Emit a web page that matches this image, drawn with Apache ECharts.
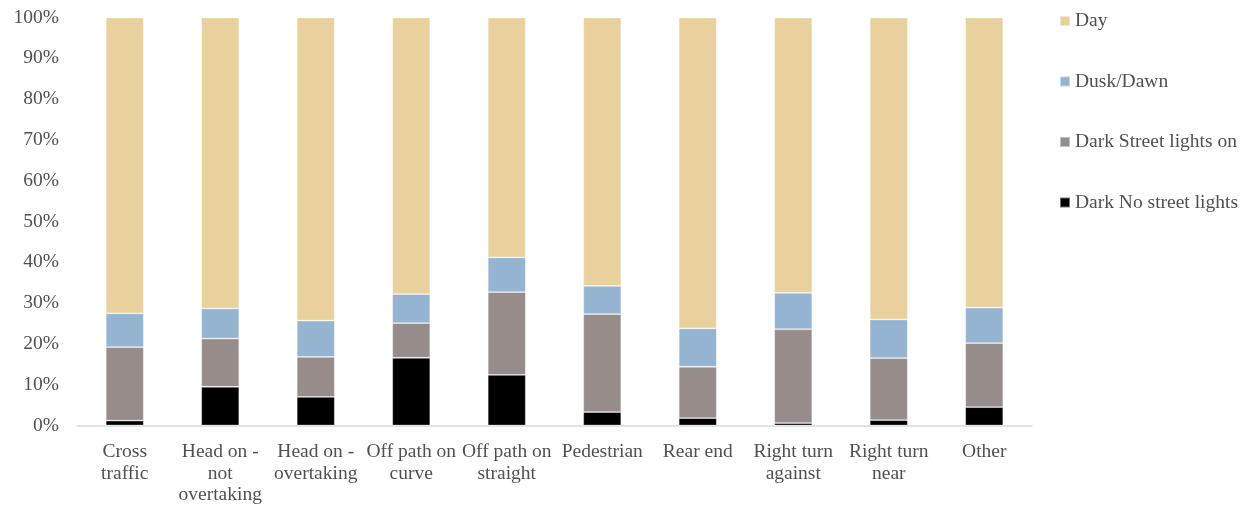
<!DOCTYPE html>
<html>
<head>
<meta charset="utf-8">
<script src="https://cdn.jsdelivr.net/npm/echarts@6/dist/echarts.min.js"></script>
<style>
  html, body { margin: 0; padding: 0; background: #fff; }
  #chart { width: 1247px; height: 506px; }
</style>
</head>
<body>
<div id="chart"></div>
<script>
// Crash type categories (line breaks as they wrap under the axis)
const categories = [
  'Cross\ntraffic', 'Head on -\nnot\novertaking', 'Head on -\novertaking',
  'Off path on\ncurve', 'Off path on\nstraight', 'Pedestrian', 'Rear end',
  'Right turn\nagainst', 'Right turn\nnear', 'Other'
];

// Share of crashes by light condition (%), each category sums to 100
const darkNoLights = [1.2, 9.5, 7.0, 16.6, 12.4, 3.3, 1.8, 0.6, 1.3, 4.5];
const darkLightsOn = [18.0, 11.8, 9.8, 8.5, 20.3, 24.0, 12.6, 23.0, 15.2, 15.7];
const duskDawn     = [8.3, 7.4, 8.9, 7.1, 8.5, 6.9, 9.4, 8.9, 9.5, 8.7];
const day          = [72.5, 71.3, 74.3, 67.8, 58.8, 65.8, 76.2, 67.5, 74.0, 71.1];

const yTicks = [0, 10, 20, 30, 40, 50, 60, 70, 80, 90, 100];

const FONT = "'Liberation Serif', 'DejaVu Serif', serif";
const FONT_SIZE = 19.5;
const TEXT = '#505050';

function bar(name, data, color) {
  return {
    name, type: 'bar', stack: 'total', data,
    barWidth: 38,
    itemStyle: { color, borderColor: 'rgba(255,255,255,0.45)', borderWidth: 0.8 }
  };
}

const chart = echarts.init(document.getElementById('chart'), null, { renderer: 'canvas' });
chart.setOption({
  animation: false,
  grid: { left: 77, right: 215, top: 17.5, bottom: 78.5, containLabel: false },
  legend: {
    orient: 'vertical',
    left: 1054, top: 6,
    itemGap: 40.5,
    itemWidth: 10, itemHeight: 10,
    icon: 'rect',
    data: ['Day', 'Dusk/Dawn', 'Dark Street lights on', 'Dark No street lights'],
    textStyle: { fontFamily: FONT, fontSize: FONT_SIZE, lineHeight: 20, color: TEXT }
  },
  xAxis: {
    type: 'category',
    data: categories,
    axisLine: { lineStyle: { color: '#d9d9d9', width: 1.5 } },
    axisTick: { show: false },
    axisLabel: {
      interval: 0, margin: 16,
      fontFamily: FONT, fontSize: FONT_SIZE, color: TEXT, lineHeight: 21.5
    }
  },
  yAxis: {
    type: 'value',
    min: yTicks[0], max: yTicks[yTicks.length - 1], interval: 10,
    splitLine: { show: false },
    axisLine: { show: false },
    axisTick: { show: false },
    axisLabel: {
      margin: 18,
      fontFamily: FONT, fontSize: FONT_SIZE, color: TEXT,
      formatter: v => v + '%'
    }
  },
  series: [
    bar('Dark No street lights', darkNoLights, '#000000'),
    bar('Dark Street lights on', darkLightsOn, '#968C8A'),
    bar('Dusk/Dawn', duskDawn, '#95B4D2'),
    bar('Day', day, '#E8D19D')
  ]
});
</script>
</body>
</html>
